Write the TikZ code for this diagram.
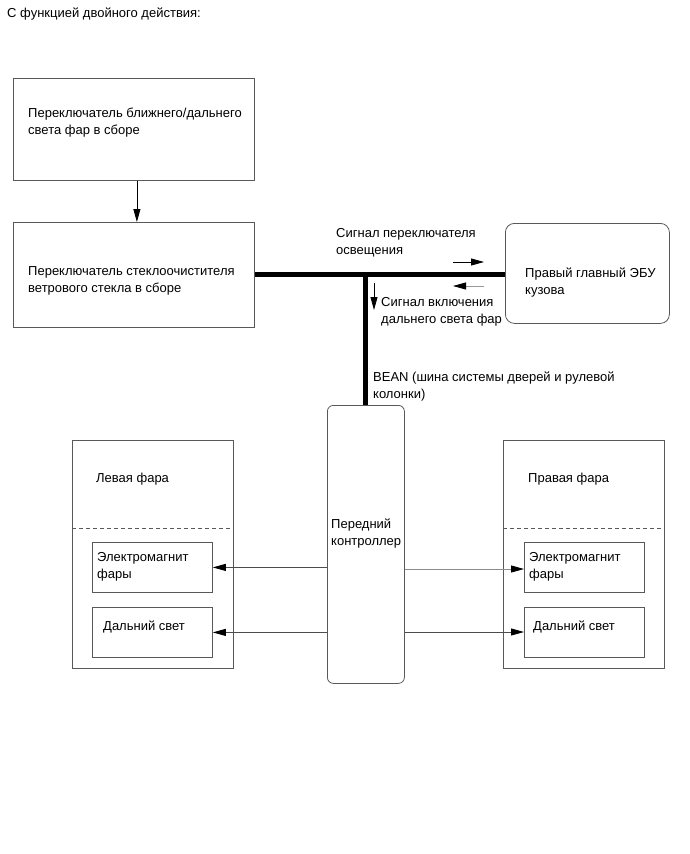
\documentclass[tikz,border=0pt]{standalone}
\usepackage{fontspec}
\setmainfont{Liberation Sans}
\usetikzlibrary{arrows.meta}
\begin{document}
\begin{tikzpicture}[x=1pt,y=-1pt,
  box/.style={draw=black!65,line width=0.8pt,inner sep=0pt,anchor=north west},
  rbox/.style={box,rounded corners=9pt},
  lbl/.style={inner sep=0pt,anchor=base west,align=left,font=\fontsize{13}{17}\selectfont},
  arr/.style={line width=0.8pt,-{Triangle[length=13pt,width=7pt,black]}},
  bus/.style={line width=5pt}]
\fill[white] (0,0) rectangle (690,854);
\useasboundingbox (0,0) rectangle (690,854);

\node[lbl] (title) at (7,17) {С функцией двойного действия:};

\node[box,minimum width=241pt,minimum height=102pt] (sw1) at (13,78) {};
\node[lbl] (sw1t) at (28,134) {Переключатель ближнего/дальнего\\света фар в сборе};

\node[box,minimum width=241pt,minimum height=105pt] (sw2) at (13,222) {};
\node[lbl] (sw2t) at (28,292) {Переключатель стеклоочистителя\\ветрового стекла в сборе};

\node[rbox,minimum width=164pt,minimum height=100pt] (ecu) at (505,223) {};
\node[lbl] (ecut) at (525,294) {Правый главный ЭБУ\\кузова};

\node[rbox,rounded corners=6pt,minimum width=77pt,minimum height=278pt] (ctrl) at (327,405) {};
\node[lbl] (ctrlt) at (331,545) {Передний\\контроллер};

% left headlight
\node[box,minimum width=161pt,minimum height=228pt] (lh) at (72,440) {};
\node[lbl] (lht) at (96,482) {Левая фара};
\node[box,minimum width=120pt,minimum height=50pt] (lem) at (92,542) {};
\node[lbl] (lemt) at (97,578) {Электромагнит\\фары};
\node[box,minimum width=120pt,minimum height=50pt] (lhb) at (92,607) {};
\node[lbl] (lhbt) at (103,630) {Дальний свет};

% right headlight
\node[box,minimum width=161pt,minimum height=228pt] (rh) at (503,440) {};
\node[lbl] (rht) at (528,482) {Правая фара};
\node[box,minimum width=120pt,minimum height=50pt] (rem) at (524,542) {};
\node[lbl] (remt) at (529,578) {Электромагнит\\фары};
\node[box,minimum width=120pt,minimum height=50pt] (rhb) at (524,607) {};
\node[lbl] (rhbt) at (533,630) {Дальний свет};

\draw[black!65,line width=0.8pt,dash pattern=on 4pt off 3pt] (lh.west |- 0,528) -- (lh.east |- 0,528);
\draw[black!65,line width=0.8pt,dash pattern=on 4pt off 3pt] (rh.west |- 0,528) -- (rh.east |- 0,528);

% connectors
\draw[arr] ([xshift=3pt]sw1.south) -- ([xshift=3pt]sw2.north);
\draw[bus] (sw2.east) -- (sw2.east -| ecu.west);
\coordinate (j) at (ctrl.north |- sw2.east);
\draw[bus] (j) -- (ctrl.north);

\draw[arr,draw=black!70] (ctrl.west |- lem.east) -- (lem.east);
\draw[arr,draw=black!70] (ctrl.west |- lhb.east) -- (lhb.east);
\draw[arr,draw=black!45] (ctrl.east |- 0,569) -- (rem.west |- 0,569);
\draw[arr,draw=black!70] (ctrl.east |- 0,632) -- (rhb.west |- 0,632);

% signal labels and small arrows
\node[lbl] (s1) at (336,254) {Сигнал переключателя\\освещения};
\coordinate (a1s) at (453,262); \coordinate (a1e) at (484,262);
\draw[arr] (a1s) -- (a1e);
\coordinate (a2s) at (484,286); \coordinate (a2e) at (453,286);
\draw[arr,draw=black!40] (a2s) -- (a2e);

\coordinate (a3s) at (374,283); \coordinate (a3e) at (374,310);
\draw[arr] (a3s) -- (a3e);
\node[lbl] (s2) at (381,323) {Сигнал включения\\дальнего света фар};

\node[lbl] (s3) at (373,398) {BEAN (шина системы дверей и рулевой\\колонки)};
\end{tikzpicture}
\end{document}
